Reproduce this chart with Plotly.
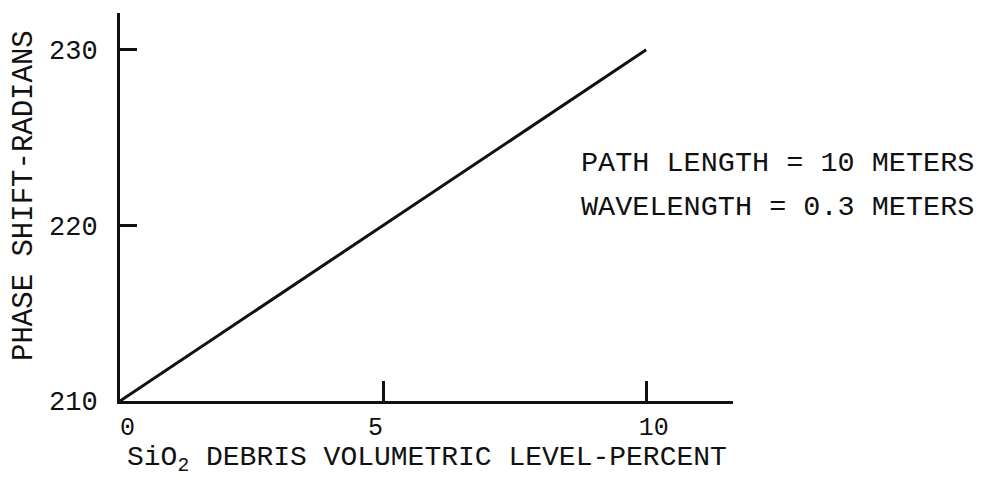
import plotly.graph_objects as go

# Phase shift vs. SiO2 debris volumetric level
debris_percent = [0, 10]
phase_shift = [210, 230]

x_tick_vals = [0, 5, 10]
x_tick_text = ["\u00a00", "5\u00a0", "\u00a010"]
y_tick_vals = [210, 220, 230]
y_tick_text = ["210", "220", "230"]

notes = ["PATH LENGTH = 10 METERS", "WAVELENGTH = 0.3 METERS"]

FONT = "Courier New, Liberation Mono, monospace"
INK = "#111111"

fig = go.Figure()
fig.add_trace(go.Scatter(
    x=debris_percent, y=phase_shift, mode="lines",
    line=dict(color=INK, width=3), showlegend=False, hoverinfo="skip",
))

fig.update_layout(
    width=990, height=477,
    margin=dict(l=120, r=257, t=13, b=76),
    paper_bgcolor="white", plot_bgcolor="white",
    font=dict(family=FONT, size=27, color=INK),
    xaxis=dict(
        range=[0, 11.65], showgrid=False, zeroline=False,
        showline=True, linecolor=INK, linewidth=3,
        tickmode="array", tickvals=x_tick_vals, ticktext=x_tick_text,
        ticks="inside", ticklen=20, tickwidth=3, tickcolor=INK,
        ticklabelstandoff=1,
        tickfont=dict(family=FONT, size=25, color=INK),
    ),
    yaxis=dict(
        range=[210, 232.1], showgrid=False, zeroline=False,
        showline=True, linecolor=INK, linewidth=3,
        tickmode="array", tickvals=y_tick_vals, ticktext=y_tick_text,
        ticks="inside", ticklen=17, tickwidth=3, tickcolor=INK,
        ticklabelstandoff=14,
        tickfont=dict(family=FONT, size=27, color=INK),
    ),
)

# Axis titles
fig.add_annotation(
    text="PHASE SHIFT-RADIANS", textangle=-90,
    xref="paper", yref="paper", x=-0.155, y=0.531,
    xanchor="center", yanchor="middle", showarrow=False,
    font=dict(family=FONT, size=29, color=INK),
)
fig.add_annotation(
    text="SiO<sub>2</sub> DEBRIS VOLUMETRIC LEVEL-PERCENT",
    xref="paper", yref="paper", x=0.501, y=-0.15,
    xanchor="center", yanchor="middle", showarrow=False,
    font=dict(family=FONT, size=28, color=INK),
)

# Parameter notes
for text, ypos in zip(notes, [0.613, 0.5]):
    fig.add_annotation(
        text=text, xref="paper", yref="paper", x=0.748, y=ypos,
        xanchor="left", yanchor="middle", showarrow=False,
        font=dict(family=FONT, size=28.5, color=INK),
    )

fig.write_html("out.html")
